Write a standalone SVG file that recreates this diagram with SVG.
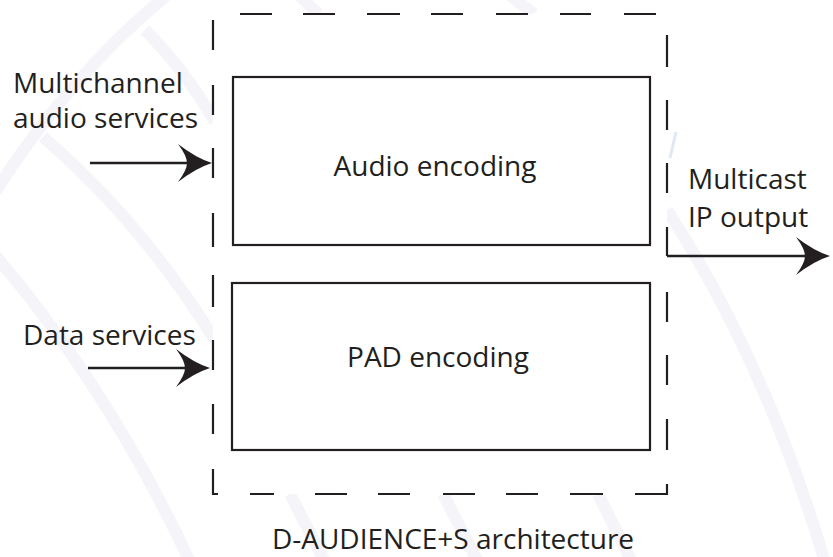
<svg xmlns="http://www.w3.org/2000/svg" width="833" height="557" viewBox="0 0 833 557">
<style>
.bg{fill:none;stroke:#f4f4f9;stroke-width:12;stroke-linecap:butt}
.dash{fill:none;stroke:#231f20;stroke-width:2.2}
.box{fill:#fff;stroke:#231f20;stroke-width:2.2}
.shaft{fill:none;stroke:#231f20;stroke-width:2.6}
.head{fill:#231f20}
text{font-family:"Open Sans","Liberation Sans",sans-serif;font-size:28px;fill:#231f20}
.mid{text-anchor:middle}
</style>
<defs>
<path id="ah" d="M0,0 Q-16,-5 -34,-19 Q-25,-7 -25,0 Q-25,7 -34,19 Q-16,5 0,0 Z"/>
</defs>
<rect width="833" height="557" fill="#fff"/>
<g id="background">
<path class="bg" d="M167,-5 Q70,75 -5,192"/>
<path class="bg" d="M145,30 Q185,70 215,122"/>
<path class="bg" d="M43,137 Q140,220 215,340"/>
<path class="bg" d="M-5,255 Q110,390 190,562"/>
<path class="bg" d="M667,210 Q765,360 825,562"/>
<path class="bg" d="M290,494 L325,562"/>
<path class="bg" d="M443,494 L478,562"/>
<path class="bg" d="M598,494 L632,562"/>
<path class="bg" d="M300,-4 L318,14"/>
<path class="bg" d="M511,-4 L534,14"/>
<path d="M676,132 L670,158" stroke="#dfe8f4" stroke-width="3" fill="none"/>
<rect x="213" y="14" width="454" height="480" fill="#fff"/>
</g>
<g id="system-boundary">
<path class="dash" d="M240,14H272M303,14H335M367,14H400M431,14H463M496,14H528M560,14H591M624,14H656
M667,35V67M667,100V130M667,163V193M667,227V256M667,292V322M667,355V385M667,419V450M667,484V494H635
M603,494H570M538,494H506M475,494H443M410,494H378M347,494H315M274,494H250
M218,494H213V469M213,434V404M213,370V340M213,307V275M213,247V213M213,178V148M213,115V85M213,50V20"/>
</g>
<g id="audio-encoding">
<rect class="box" x="233" y="77" width="417" height="168"/>
<text class="mid" x="435" y="176">Audio encoding</text>
</g>
<g id="pad-encoding">
<rect class="box" x="232" y="283" width="418" height="167"/>
<text class="mid" x="438" y="367">PAD encoding</text>
</g>
<g id="labels">
<text x="13" y="93">Multichannel</text>
<text x="13" y="128">audio services</text>
<text x="23" y="345">Data services</text>
<text x="688" y="189">Multicast</text>
<text x="688" y="227">IP output</text>
<text class="mid" x="453" y="549">D-AUDIENCE+S architecture</text>
</g>
<g id="connectors">
<line class="shaft" x1="90" y1="163" x2="190" y2="163"/>
<use href="#ah" class="head" transform="translate(212,163)"/>
<line class="shaft" x1="88" y1="368" x2="188" y2="368"/>
<use href="#ah" class="head" transform="translate(210,368)"/>
<line class="shaft" x1="667" y1="256" x2="808" y2="256"/>
<use href="#ah" class="head" transform="translate(830,256)"/>
</g>
</svg>
